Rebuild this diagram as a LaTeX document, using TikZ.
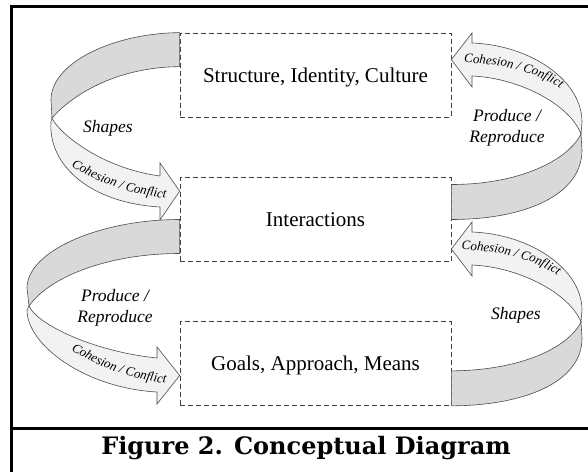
\documentclass[tikz,border=0pt]{standalone}
\usepackage{fontspec}
\setmainfont{Liberation Serif}
\newfontfamily\capfont{DejaVu Serif}
\usetikzlibrary{calc,decorations.text}

\begin{document}
\begin{tikzpicture}[x=1pt, y=-1pt,
  box/.style={rectangle, draw=black!75, dash pattern=on 5pt off 3pt, line width=0.7pt,
    minimum width=271pt, minimum height=84pt, text depth=0pt, font=\fontsize{21}{25}\selectfont},
  lbl/.style={font=\fontsize{17.5}{21}\selectfont\itshape, align=center},
  back/.style={fill=black!15, draw=black!70, line width=0.6pt},
  front/.style={fill=black!5, draw=black!70, line width=0.6pt},
  frame/.style={line width=2.6pt},
  cohesion/.style={decorate, decoration={text along path, text align=center,
    text={|\fontsize{13}{13}\selectfont\itshape|Cohesion / Conflict}}}]
  \useasboundingbox (0,0) rectangle (588,472);
  % Frame
  \draw[frame] (588,6.7) -- (11.7,6.7) -- (11.7,472);
  \draw[frame] (11.7,428.7) -- (588,428.7);
  % Boxes
  \node[box] (struct) at (315.5,75)    {Structure, Identity, Culture};
  \node[box] (inter)  at (315.5,219.5) {Interactions};
  \node[box] (goals)  at (315.5,363.5) {Goals, Approach, Means};
  % Ribbon: structure -> interactions (left)
  \filldraw[back] (struct.north west) .. controls (115,33) and (51,62) .. (51,100)
    -- (52,118) .. controls (75,92) and (120,67) .. ($(struct.north west)+(0,34)$) -- cycle;
  \filldraw[front] (52,118) .. controls (58,132) and (100,168) .. (160,176)
    -- (160,163) -- ($(inter.north west)+(0,14)$) -- (160,220) -- (160,207)
    .. controls (90,203) and (48,165) .. (51,122) -- cycle;
  % Ribbon: interactions -> goals (left)
  \filldraw[back] (inter.west) .. controls (100,219.5) and (27,251) .. (27,288)
    -- (29,306) .. controls (50,276) and (110,253.5) .. ($(inter.west)+(0,34)$) -- cycle;
  \filldraw[front] (29,306) .. controls (36,323) and (90,351) .. (157,358)
    -- (157,347) -- ($(goals.west)+(0,12)$) -- (157,404) -- (157,392)
    .. controls (85,388) and (27,345) .. (27,310) -- cycle;
  % Ribbon: interactions -> structure (right)
  \filldraw[front] (472,43) .. controls (530,45) and (582,80) .. (582,122)
    -- (581,134) .. controls (570,105) and (520,78) .. (472,76)
    -- (472,87) -- ($(struct.north east)+(0,27)$) -- (472,33) -- cycle;
  \filldraw[back] (581,134) .. controls (568,160) and (520,184.5) .. ($(inter.east)+(0,-35)$)
    -- (inter.east) .. controls (525,219.5) and (582,195) .. (582,150) -- cycle;
  % Ribbon: goals -> interactions (right)
  \filldraw[front] (472,232) .. controls (530,234) and (582,269) .. (582,310)
    -- (581,322) .. controls (570,294) and (520,267) .. (472,265)
    -- (472,276) -- ($(inter.east)+(0,29.5)$) -- (472,222) -- cycle;
  \filldraw[back] (581,322) .. controls (568,348) and (520,370.5) .. ($(goals.south east)+(0,-35)$)
    -- (goals.south east) .. controls (525,405.5) and (582,382) .. (582,338) -- cycle;
  % Ribbon texts
  \path[cohesion] (66,163) .. controls (95,182) and (130,195) .. (172,199);
  \path[cohesion] (66,347) .. controls (95,366) and (130,380) .. (172,384);
  \path[cohesion] (457,63) .. controls (500,62) and (540,72) .. (566,93);
  \path[cohesion] (455,250) .. controls (497,249) and (537,259) .. (563,280);
  % Labels
  \node[lbl, anchor=base] (shapesL) at (108,132) {Shapes};
  \node[lbl] (prodR) at (507,128) {Produce /\\Reproduce};
  \node[lbl] (prodL) at (115,308) {Produce /\\Reproduce};
  \node[lbl, anchor=base] (shapesR) at (516,319) {Shapes};
  % Caption
  \node[font=\capfont\bfseries\fontsize{24}{28}\selectfont, anchor=base] (caption) at (306,454)
    {Figure 2. Conceptual Diagram};
\end{tikzpicture}
\end{document}
